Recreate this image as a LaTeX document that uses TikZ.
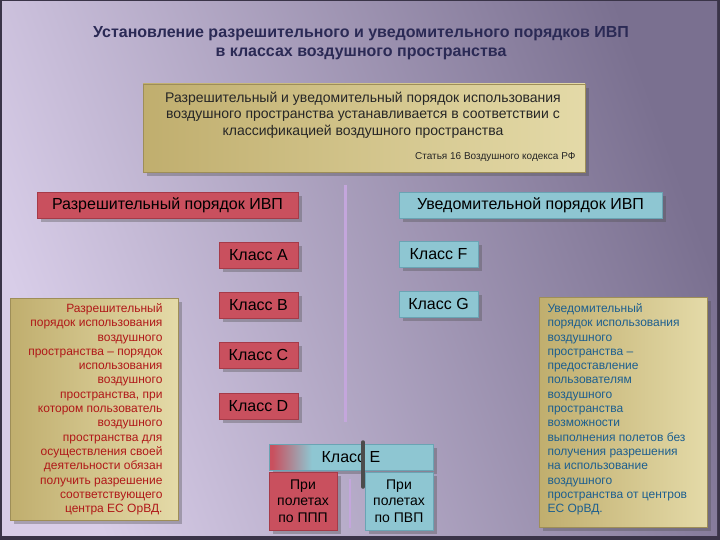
\documentclass[tikz,border=0pt]{standalone}
\usepackage{fontspec}
\setmainfont{Liberation Sans}
\usetikzlibrary{shadows}
\definecolor{bgA}{HTML}{D8CDE8}
\definecolor{bgB}{HTML}{7A7090}
\definecolor{frame}{HTML}{3A3448}
\definecolor{titlec}{HTML}{2B2A55}
\definecolor{goldA}{HTML}{C0AE6E}
\definecolor{goldB}{HTML}{E4DAA8}
\definecolor{goldE}{HTML}{9E8E58}
\definecolor{myred}{HTML}{C9505E}
\definecolor{myredE}{HTML}{A63A48}
\definecolor{myblue}{HTML}{8EC6D2}
\definecolor{myblueE}{HTML}{6AA4B4}
\definecolor{redtxt}{HTML}{B01818}
\definecolor{bluetxt}{HTML}{1D5F8F}
\definecolor{sepc}{HTML}{C4A6DC}
\pgfdeclarehorizontalshading{redblue}{100bp}{color(0bp)=(myred); color(26bp)=(myred); color(38bp)=(myblue); color(100bp)=(myblue)}
\tikzset{
  sh/.style={drop shadow={shadow xshift=4pt,shadow yshift=-4pt,opacity=0.35,fill=black!70}},
  goldbox/.style={rectangle, left color=goldA, right color=goldB, draw=goldE, line width=0.6pt, sh, inner sep=0pt},
  redbox/.style={rectangle, fill=myred, draw=myredE, line width=0.6pt, sh, inner sep=0pt, font=\fontsize{16}{18}\selectfont, text=black},
  bluebox/.style={rectangle, fill=myblue, draw=myblueE, line width=0.6pt, sh, inner sep=0pt, font=\fontsize{16}{18}\selectfont, text=black},
  classbox/.style={minimum width=79pt, minimum height=26pt},
  sepline/.style={line width=3pt, draw=sepc}
}
\begin{document}
\begin{tikzpicture}[x=1pt,y=-1pt]
\useasboundingbox (0,0) rectangle (720,540);
\fill[frame] (0,0) rectangle (720,540);
\shade[left color=bgA, right color=bgB, shading angle=110] (2,2) rectangle (717,535);
% title
\node[font=\bfseries\fontsize{16}{19}\selectfont, text=titlec, align=center] (title) at (361,43)
  {Установление разрешительного и уведомительного порядков ИВП\\в классах воздушного пространства};
% top gold box
\node[goldbox, minimum width=442pt, minimum height=88pt] (top) at (364,128) {};
\node[font=\fontsize{14}{16.5}\selectfont, align=center, text=black!85] (toptext) at (363,115)
  {Разрешительный и уведомительный порядок использования\\воздушного пространства устанавливается в соответствии с\\классификацией воздушного пространства};
\node[font=\fontsize{10}{12}\selectfont, anchor=east, text=black!85] (article) at (579,157) {Статья 16 Воздушного кодекса РФ};
% separator
\coordinate (s1) at (345.5,185);
\coordinate (s2) at (345.5,422);
\draw[sepline] (s1) -- (s2);
% headers
\node[redbox, minimum width=261pt, minimum height=26pt] (perm) at (167.5,205) {Разрешительный порядок ИВП};
\node[bluebox, minimum width=263pt, minimum height=26pt] (notif) at (530.5,205) {Уведомительной порядок ИВП};
% classes
\node[redbox, classbox] (cA) at (258.5,255) {Класс А};
\node[redbox, classbox] (cB) at (258.5,305) {Класс В};
\node[redbox, classbox] (cC) at (258.5,355) {Класс С};
\node[redbox, classbox] (cD) at (258.5,406) {Класс D};
\node[bluebox, classbox] (cF) at (438.5,254) {Класс F};
\node[bluebox, classbox] (cG) at (438.5,304) {Класс G};
% side boxes
\node[goldbox, minimum width=168pt, minimum height=222pt] (lbox) at (94,409) {};
\node[font=\fontsize{12}{14.3}\selectfont, align=right, text=redtxt, anchor=north east] (ltext) at (166,300)
  {Разрешительный\\порядок использования\\воздушного\\пространства – порядок\\использования\\воздушного\\пространства, при\\котором пользователь\\воздушного\\пространства для\\осуществления своей\\деятельности обязан\\получить разрешение\\соответствующего\\центра ЕС ОрВД.};
\node[goldbox, minimum width=168pt, minimum height=230pt] (rbox) at (623,412) {};
\node[font=\fontsize{12}{14.3}\selectfont, align=left, text=bluetxt, anchor=north west] (rtext) at (544,300)
  {Уведомительный\\порядок использования\\воздушного\\пространства –\\предоставление\\пользователям\\воздушного\\пространства\\возможности\\выполнения полетов без\\получения разрешения\\на использование\\воздушного\\пространства от центров\\ЕС ОрВД.};
% class E
\node[rectangle, shading=redblue, draw=myblueE, line width=0.6pt, sh, minimum width=164pt, minimum height=26pt, inner sep=0pt, font=\fontsize{16}{18}\selectfont] (cE) at (351,457) {Класс Е};
\node[redbox, minimum width=68pt, minimum height=58pt, align=center, font=\fontsize{14}{16.5}\selectfont] (ppp) at (303,501) {При\\полетах\\по ППП};
\node[bluebox, minimum width=68pt, minimum height=58pt, align=center, font=\fontsize{14}{16.5}\selectfont] (pvp) at (399,501) {При\\полетах\\по ПВП};
\coordinate (e1) at (350,479);
\coordinate (e2) at (350,528);
\draw[sepline, line width=2.5pt] (e1) -- (e2);
\coordinate (d1) at (363,442);
\coordinate (d2) at (363,487);
\draw[line width=3.5pt, draw=black!70, line cap=round] (d1) -- (d2);
\end{tikzpicture}
\end{document}
